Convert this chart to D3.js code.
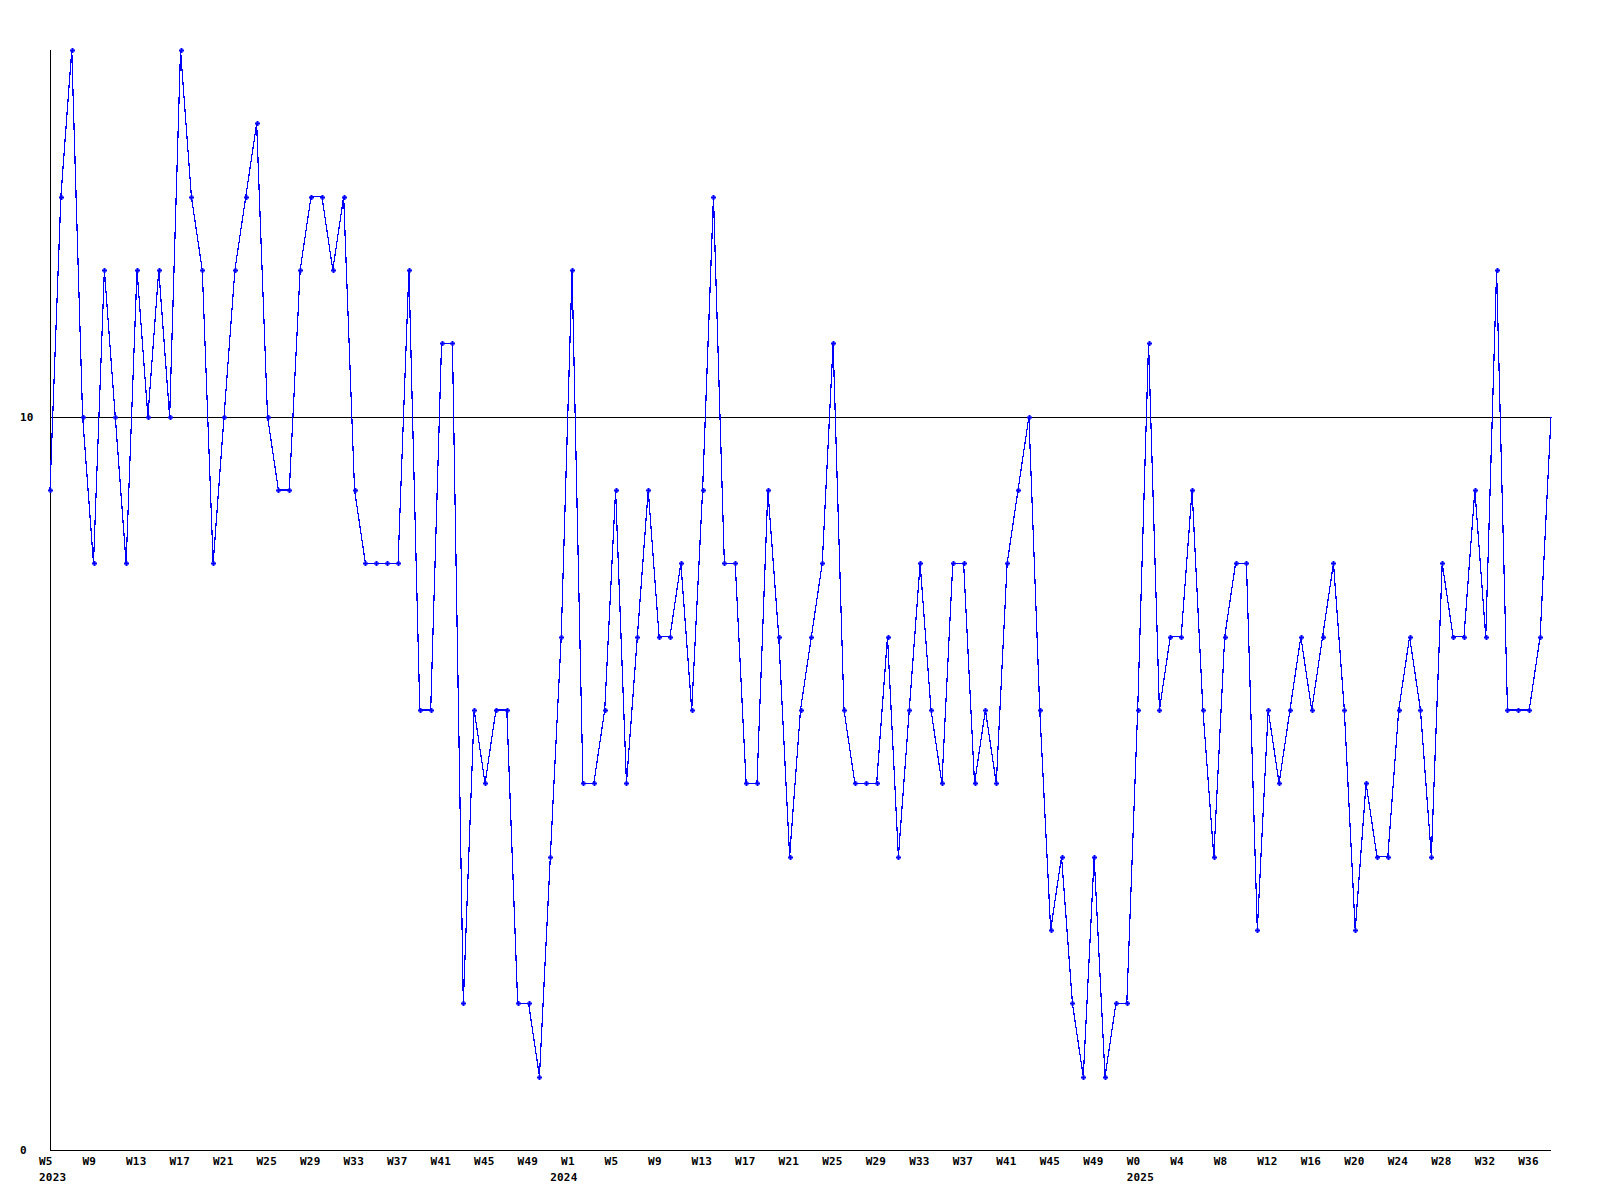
<!DOCTYPE html>
<html>
<head>
<meta charset="utf-8">
<script src="https://cdn.jsdelivr.net/npm/d3@7"></script>
<style>
  html, body { margin: 0; padding: 0; background: #fff; }
  svg text { font-family: "DejaVu Sans Mono", "Liberation Mono", monospace; font-weight: bold; font-size: 11px; letter-spacing: 0.2px; fill: #000; }
</style>
</head>
<body>
<svg id="chart" width="1600" height="1200"></svg>
<script>
// Weekly values, from W5 2023 to W38 2025 (139 weeks)
const values2023 = [9,13,15,10,8,12,10,8,12,10,12,10,15,13,12,8,10,12,13,14,10,9,9,12,13,13,12,13,9,8,8,8,8,12,6,6,11,11,2,6,5,6,6,2,2,1,4,7];
const values2024 = [12,5,5,6,9,5,7,9,7,7,8,6,9,13,8,8,5,5,9,7,4,6,7,8,11,6,5,5,5,7,4,6,8,6,5,8,8,5,6,5,8,9,10,6,3,4,2,1,4,1,2,2];
const values2025 = [6,11,6,7,7,9,6,4,7,8,8,3,6,5,6,7,6,7,8,6,3,5,4,4,6,7,6,4,8,7,7,9,7,12,6,6,6,7,10];
const values = values2023.concat(values2024, values2025);

// x-axis tick labels, one every 4 weeks starting at the first week
const tickLabels = ['W5','W9','W13','W17','W21','W25','W29','W33','W37','W41','W45','W49',
                    'W1','W5','W9','W13','W17','W21','W25','W29','W33','W37','W41','W45','W49',
                    'W0','W4','W8','W12','W16','W20','W24','W28','W32','W36'];
const tickStep = 4;
// year labels and the week index they sit under
const yearLabels = ['2023','2024','2025'];
const yearIndex = [0, 47, 100];
// y-axis labels
const yTicks = [0, 10];
const yMax = 15;

(function () {
const svg = d3.select('#chart');
const mLeft = 50, mRight = 1551, mTop = 50, mBottom = 1150;

const x = d3.scaleLinear().domain([0, values.length - 1]).range([mLeft, mRight]);
const y = d3.scaleLinear().domain([0, yMax]).range([mBottom, mTop]);

// reference line at 10
svg.append('line')
  .attr('x1', mLeft).attr('x2', mRight)
  .attr('y1', Math.round(y(10)) + 0.5).attr('y2', Math.round(y(10)) + 0.5)
  .attr('stroke', '#000').attr('stroke-width', 1).attr('shape-rendering', 'crispEdges');

// axes lines
svg.append('line')
  .attr('x1', mLeft + 0.5).attr('x2', mLeft + 0.5)
  .attr('y1', mTop).attr('y2', mBottom)
  .attr('stroke', '#000').attr('shape-rendering', 'crispEdges');
svg.append('line')
  .attr('x1', mLeft).attr('x2', mRight)
  .attr('y1', mBottom + 0.5).attr('y2', mBottom + 0.5)
  .attr('stroke', '#000').attr('shape-rendering', 'crispEdges');

// y labels
svg.selectAll('text.ylab').data(yTicks).enter().append('text')
  .attr('class', 'ylab')
  .attr('x', 20)
  .attr('y', d => y(d) + 4)
  .text(d => d);

// x week labels
svg.selectAll('text.xlab').data(tickLabels).enter().append('text')
  .attr('class', 'xlab')
  .attr('x', (d, i) => x(i * tickStep) - 11)
  .attr('y', 1165)
  .text(d => d);

// year labels
svg.selectAll('text.yearlab').data(yearLabels).enter().append('text')
  .attr('class', 'yearlab')
  .attr('x', (d, i) => x(yearIndex[i]) - 11)
  .attr('y', 1181)
  .text(d => d);

// data line
const line = d3.line().x((d, i) => x(i)).y(d => y(d));
svg.append('path')
  .datum(values)
  .attr('d', line)
  .attr('fill', 'none')
  .attr('stroke', '#0000ff')
  .attr('stroke-width', 1.2)
  .attr('shape-rendering', 'crispEdges');

// markers (small plus signs), last point without marker
const pts = values.slice(0, values.length - 1);
const mk = svg.append('g');
mk.selectAll('rect.h').data(pts).enter().append('rect')
  .attr('x', (d, i) => Math.round(x(i)) - 2)
  .attr('y', d => Math.round(y(d)) - 0.5)
  .attr('width', 5).attr('height', 2)
  .attr('fill', '#0000ff');
mk.selectAll('rect.v').data(pts).enter().append('rect')
  .attr('x', (d, i) => Math.round(x(i)) - 0.5)
  .attr('y', d => Math.round(y(d)) - 2)
  .attr('width', 2).attr('height', 5)
  .attr('fill', '#0000ff');
})();
</script>
</body>
</html>
